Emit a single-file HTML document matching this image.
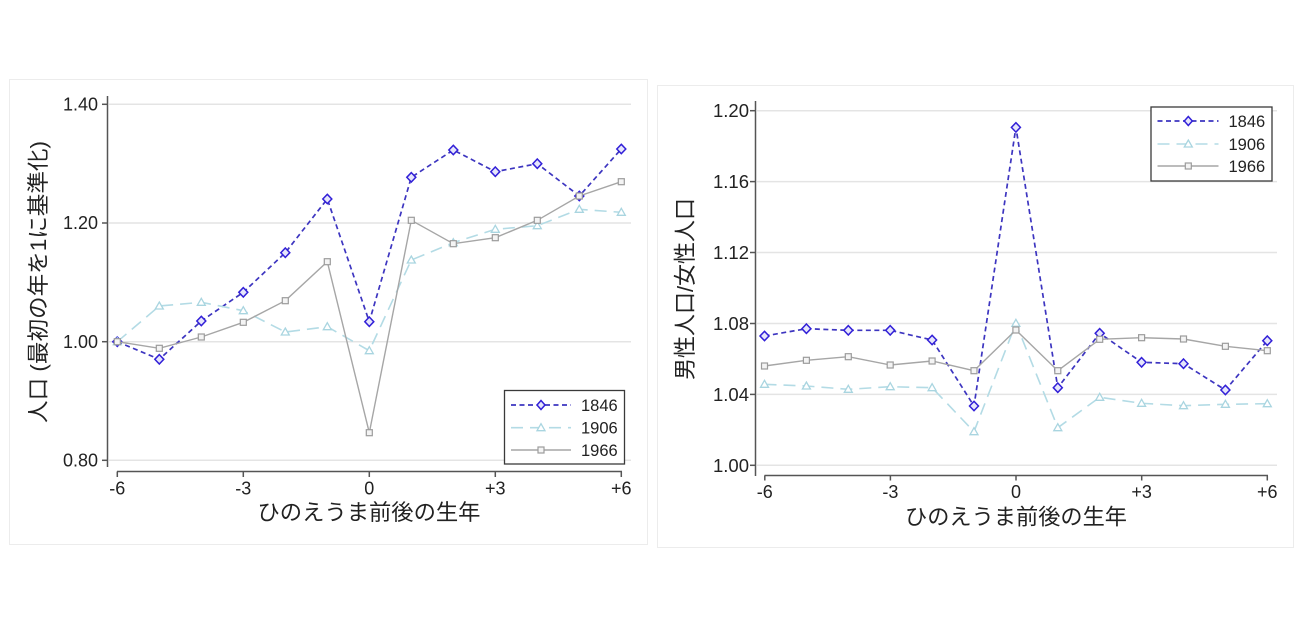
<!DOCTYPE html>
<html>
<head>
<meta charset="utf-8">
<style>
  html, body { margin: 0; padding: 0; background: #ffffff; }
  svg { display: block; }
  text { font-family: "Liberation Sans", "Noto Sans CJK JP", sans-serif; fill: #222; }
</style>
</head>
<body>
<svg width="1300" height="628" viewBox="0 0 1300 628" xmlns="http://www.w3.org/2000/svg">
  <rect x="0" y="0" width="1300" height="628" fill="#ffffff"/>

  <!-- ================= LEFT CHART ================= -->
  <rect x="9.5" y="79.5" width="638" height="465" fill="#ffffff" stroke="#ececec" stroke-width="1"/>
  <!-- gridlines -->
  <g stroke="#e4e4e4" stroke-width="1.5">
    <line x1="109" y1="104.3" x2="631" y2="104.3"/>
    <line x1="109" y1="223" x2="631" y2="223"/>
    <line x1="109" y1="341.7" x2="631" y2="341.7"/>
    <line x1="109" y1="460.3" x2="631" y2="460.3"/>
  </g>
  <!-- y axis -->
  <g stroke="#555" stroke-width="1.5">
    <line x1="107.5" y1="96" x2="107.5" y2="467"/>
    <line x1="102" y1="104.3" x2="107.5" y2="104.3"/>
    <line x1="102" y1="223" x2="107.5" y2="223"/>
    <line x1="102" y1="341.7" x2="107.5" y2="341.7"/>
    <line x1="102" y1="460.3" x2="107.5" y2="460.3"/>
  </g>
  <g font-size="18" text-anchor="end">
    <text x="98" y="110.5">1.40</text>
    <text x="98" y="229.2">1.20</text>
    <text x="98" y="347.9">1.00</text>
    <text x="98" y="466.5">0.80</text>
  </g>
  <!-- x axis -->
  <g stroke="#555" stroke-width="1.5">
    <line x1="117" y1="471.5" x2="622" y2="471.5"/>
    <line x1="117.3" y1="471.5" x2="117.3" y2="477"/>
    <line x1="243.3" y1="471.5" x2="243.3" y2="477"/>
    <line x1="369.3" y1="471.5" x2="369.3" y2="477"/>
    <line x1="495.3" y1="471.5" x2="495.3" y2="477"/>
    <line x1="621.3" y1="471.5" x2="621.3" y2="477"/>
  </g>
  <g font-size="18" text-anchor="middle">
    <text x="117.3" y="494.5">-6</text>
    <text x="243.3" y="494.5">-3</text>
    <text x="369.3" y="494.5">0</text>
    <text x="495.3" y="494.5">+3</text>
    <text x="621.3" y="494.5">+6</text>
  </g>
  <text x="369" y="520" font-size="22" text-anchor="middle" textLength="223" lengthAdjust="spacingAndGlyphs">ひのえうま前後の生年</text>
  <text transform="translate(38,282) rotate(-90)" x="0" y="8" font-size="22" text-anchor="middle" textLength="282" lengthAdjust="spacingAndGlyphs">人口 (最初の年を1に基準化)</text>

  <!-- series 1846 -->
  <polyline fill="none" stroke="#3d35c0" stroke-width="1.7" stroke-dasharray="5,3.5"
    points="117.3,341.7 159.3,359.3 201.3,321 243.3,292.3 285.3,252.7 327.3,199 369.3,321.7 411.3,177.3 453.3,150 495.3,171.7 537.3,163.7 579.3,196 621.3,149"/>
  <g fill="#e6e6fb" stroke="#3220d8" stroke-width="1.5">
    <path d="M117.3,337 L121.8,341.7 L117.3,346.4 L112.8,341.7 Z"/>
    <path d="M159.3,354.6 L163.8,359.3 L159.3,364 L154.8,359.3 Z"/>
    <path d="M201.3,316.3 L205.8,321 L201.3,325.7 L196.8,321 Z"/>
    <path d="M243.3,287.6 L247.8,292.3 L243.3,297 L238.8,292.3 Z"/>
    <path d="M285.3,248 L289.8,252.7 L285.3,257.4 L280.8,252.7 Z"/>
    <path d="M327.3,194.3 L331.8,199 L327.3,203.7 L322.8,199 Z"/>
    <path d="M369.3,317 L373.8,321.7 L369.3,326.4 L364.8,321.7 Z"/>
    <path d="M411.3,172.6 L415.8,177.3 L411.3,182 L406.8,177.3 Z"/>
    <path d="M453.3,145.3 L457.8,150 L453.3,154.7 L448.8,150 Z"/>
    <path d="M495.3,167 L499.8,171.7 L495.3,176.4 L490.8,171.7 Z"/>
    <path d="M537.3,159 L541.8,163.7 L537.3,168.4 L532.8,163.7 Z"/>
    <path d="M579.3,191.3 L583.8,196 L579.3,200.7 L574.8,196 Z"/>
    <path d="M621.3,144.3 L625.8,149 L621.3,153.7 L616.8,149 Z"/>
  </g>

  <!-- series 1906 -->
  <polyline fill="none" stroke="#b3dbe5" stroke-width="1.6" stroke-dasharray="12,7"
    points="117.3,341.7 159.3,306 201.3,302.3 243.3,310.7 285.3,332 327.3,326.7 369.3,350.7 411.3,260 453.3,242.7 495.3,229.3 537.3,225.7 579.3,209.3 621.3,212.3"/>
  <g fill="#ffffff" stroke="#a9d5e0" stroke-width="1.3">
    <path d="M117.3,337.7 L121.3,344.7 L113.3,344.7 Z"/>
    <path d="M159.3,302 L163.3,309 L155.3,309 Z"/>
    <path d="M201.3,298.3 L205.3,305.3 L197.3,305.3 Z"/>
    <path d="M243.3,306.7 L247.3,313.7 L239.3,313.7 Z"/>
    <path d="M285.3,328 L289.3,335 L281.3,335 Z"/>
    <path d="M327.3,322.7 L331.3,329.7 L323.3,329.7 Z"/>
    <path d="M369.3,346.7 L373.3,353.7 L365.3,353.7 Z"/>
    <path d="M411.3,256 L415.3,263 L407.3,263 Z"/>
    <path d="M453.3,238.7 L457.3,245.7 L449.3,245.7 Z"/>
    <path d="M495.3,225.3 L499.3,232.3 L491.3,232.3 Z"/>
    <path d="M537.3,221.7 L541.3,228.7 L533.3,228.7 Z"/>
    <path d="M579.3,205.3 L583.3,212.3 L575.3,212.3 Z"/>
    <path d="M621.3,208.3 L625.3,215.3 L617.3,215.3 Z"/>
  </g>

  <!-- series 1966 -->
  <polyline fill="none" stroke="#a6a6a6" stroke-width="1.4"
    points="117.3,341.7 159.3,348.3 201.3,337 243.3,322.3 285.3,300.7 327.3,261.7 369.3,432.7 411.3,220.3 453.3,243.7 495.3,237.7 537.3,220.3 579.3,196 621.3,181.7"/>
  <g fill="#f4f4f4" stroke="#9c9c9c" stroke-width="1.2">
    <rect x="114.3" y="338.7" width="6" height="6"/>
    <rect x="156.3" y="345.3" width="6" height="6"/>
    <rect x="198.3" y="334" width="6" height="6"/>
    <rect x="240.3" y="319.3" width="6" height="6"/>
    <rect x="282.3" y="297.7" width="6" height="6"/>
    <rect x="324.3" y="258.7" width="6" height="6"/>
    <rect x="366.3" y="429.7" width="6" height="6"/>
    <rect x="408.3" y="217.3" width="6" height="6"/>
    <rect x="450.3" y="240.7" width="6" height="6"/>
    <rect x="492.3" y="234.7" width="6" height="6"/>
    <rect x="534.3" y="217.3" width="6" height="6"/>
    <rect x="576.3" y="193" width="6" height="6"/>
    <rect x="618.3" y="178.7" width="6" height="6"/>
  </g>

  <!-- left legend -->
  <rect x="504.5" y="390.5" width="120" height="73.5" fill="#ffffff" stroke="#3a3a3a" stroke-width="1.3"/>
  <line x1="511" y1="405" x2="571" y2="405" stroke="#3d35c0" stroke-width="1.7" stroke-dasharray="5,3.5"/>
  <path d="M541,400.5 L545,405 L541,409.5 L537,405 Z" fill="#e6e6fb" stroke="#3220d8" stroke-width="1.5"/>
  <line x1="511" y1="427.7" x2="571" y2="427.7" stroke="#b3dbe5" stroke-width="1.6" stroke-dasharray="12,7"/>
  <path d="M541,423.7 L545,430.7 L537,430.7 Z" fill="#ffffff" stroke="#a9d5e0" stroke-width="1.3"/>
  <line x1="511" y1="450" x2="571" y2="450" stroke="#a6a6a6" stroke-width="1.4"/>
  <rect x="538" y="447" width="6" height="6" fill="#f4f4f4" stroke="#9c9c9c" stroke-width="1.2"/>
  <g font-size="16.5">
    <text x="581" y="411">1846</text>
    <text x="581" y="433.7">1906</text>
    <text x="581" y="456">1966</text>
  </g>

  <!-- ================= RIGHT CHART ================= -->
  <rect x="657.5" y="85.5" width="636" height="462" fill="#ffffff" stroke="#ececec" stroke-width="1"/>
  <g stroke="#e4e4e4" stroke-width="1.5">
    <line x1="757" y1="110.7" x2="1277" y2="110.7"/>
    <line x1="757" y1="181.6" x2="1277" y2="181.6"/>
    <line x1="757" y1="252.5" x2="1277" y2="252.5"/>
    <line x1="757" y1="323.5" x2="1277" y2="323.5"/>
    <line x1="757" y1="394.4" x2="1277" y2="394.4"/>
    <line x1="757" y1="465.3" x2="1277" y2="465.3"/>
  </g>
  <g stroke="#555" stroke-width="1.5">
    <line x1="755.5" y1="101" x2="755.5" y2="476"/>
    <line x1="750" y1="110.7" x2="755.5" y2="110.7"/>
    <line x1="750" y1="181.6" x2="755.5" y2="181.6"/>
    <line x1="750" y1="252.5" x2="755.5" y2="252.5"/>
    <line x1="750" y1="323.5" x2="755.5" y2="323.5"/>
    <line x1="750" y1="394.4" x2="755.5" y2="394.4"/>
    <line x1="750" y1="465.3" x2="755.5" y2="465.3"/>
  </g>
  <g font-size="18.5" text-anchor="end">
    <text x="749" y="117.2">1.20</text>
    <text x="749" y="188.1">1.16</text>
    <text x="749" y="259">1.12</text>
    <text x="749" y="330">1.08</text>
    <text x="749" y="400.9">1.04</text>
    <text x="749" y="471.8">1.00</text>
  </g>
  <g stroke="#555" stroke-width="1.5">
    <line x1="764.5" y1="475.5" x2="1268" y2="475.5"/>
    <line x1="764.8" y1="475.5" x2="764.8" y2="480.5"/>
    <line x1="890.4" y1="475.5" x2="890.4" y2="480.5"/>
    <line x1="1016" y1="475.5" x2="1016" y2="480.5"/>
    <line x1="1141.7" y1="475.5" x2="1141.7" y2="480.5"/>
    <line x1="1267.3" y1="475.5" x2="1267.3" y2="480.5"/>
  </g>
  <g font-size="18" text-anchor="middle">
    <text x="764.8" y="498">-6</text>
    <text x="890.4" y="498">-3</text>
    <text x="1016" y="498">0</text>
    <text x="1141.7" y="498">+3</text>
    <text x="1267.3" y="498">+6</text>
  </g>
  <text x="1016" y="524.5" font-size="22" text-anchor="middle" textLength="222" lengthAdjust="spacingAndGlyphs">ひのえうま前後の生年</text>
  <text transform="translate(685,289) rotate(-90)" x="0" y="8" font-size="22.5" text-anchor="middle" textLength="182" lengthAdjust="spacingAndGlyphs">男性人口/女性人口</text>

  <!-- series 1846 -->
  <polyline fill="none" stroke="#3d35c0" stroke-width="1.7" stroke-dasharray="5,3.5"
    points="764.5,336 806.4,328.7 848.3,330.3 890.2,330.3 932.1,340 974,406 1015.9,127.4 1057.8,387.7 1099.7,333.3 1141.6,362.3 1183.5,363.7 1225.4,390 1267.3,340.7"/>
  <g fill="#e6e6fb" stroke="#3220d8" stroke-width="1.5">
    <path d="M764.5,331.3 L769,336 L764.5,340.7 L760,336 Z"/>
    <path d="M806.4,324 L810.9,328.7 L806.4,333.4 L801.9,328.7 Z"/>
    <path d="M848.3,325.6 L852.8,330.3 L848.3,335 L843.8,330.3 Z"/>
    <path d="M890.2,325.6 L894.7,330.3 L890.2,335 L885.7,330.3 Z"/>
    <path d="M932.1,335.3 L936.6,340 L932.1,344.7 L927.6,340 Z"/>
    <path d="M974,401.3 L978.5,406 L974,410.7 L969.5,406 Z"/>
    <path d="M1015.9,122.7 L1020.4,127.4 L1015.9,132.1 L1011.4,127.4 Z"/>
    <path d="M1057.8,383 L1062.3,387.7 L1057.8,392.4 L1053.3,387.7 Z"/>
    <path d="M1099.7,328.6 L1104.2,333.3 L1099.7,338 L1095.2,333.3 Z"/>
    <path d="M1141.6,357.6 L1146.1,362.3 L1141.6,367 L1137.1,362.3 Z"/>
    <path d="M1183.5,359 L1188,363.7 L1183.5,368.4 L1179,363.7 Z"/>
    <path d="M1225.4,385.3 L1229.9,390 L1225.4,394.7 L1220.9,390 Z"/>
    <path d="M1267.3,336 L1271.8,340.7 L1267.3,345.4 L1262.8,340.7 Z"/>
  </g>

  <!-- series 1906 -->
  <polyline fill="none" stroke="#b3dbe5" stroke-width="1.6" stroke-dasharray="12,7"
    points="764.5,384.3 806.4,386 848.3,389.3 890.2,386.7 932.1,387.7 974,431.7 1015.9,323.3 1057.8,427.7 1099.7,397.3 1141.6,403.3 1183.5,405.7 1225.4,404.3 1267.3,403.7"/>
  <g fill="#ffffff" stroke="#a9d5e0" stroke-width="1.3">
    <path d="M764.5,380.3 L768.5,387.3 L760.5,387.3 Z"/>
    <path d="M806.4,382 L810.4,389 L802.4,389 Z"/>
    <path d="M848.3,385.3 L852.3,392.3 L844.3,392.3 Z"/>
    <path d="M890.2,382.7 L894.2,389.7 L886.2,389.7 Z"/>
    <path d="M932.1,383.7 L936.1,390.7 L928.1,390.7 Z"/>
    <path d="M974,427.7 L978,434.7 L970,434.7 Z"/>
    <path d="M1015.9,319.3 L1019.9,326.3 L1011.9,326.3 Z"/>
    <path d="M1057.8,423.7 L1061.8,430.7 L1053.8,430.7 Z"/>
    <path d="M1099.7,393.3 L1103.7,400.3 L1095.7,400.3 Z"/>
    <path d="M1141.6,399.3 L1145.6,406.3 L1137.6,406.3 Z"/>
    <path d="M1183.5,401.7 L1187.5,408.7 L1179.5,408.7 Z"/>
    <path d="M1225.4,400.3 L1229.4,407.3 L1221.4,407.3 Z"/>
    <path d="M1267.3,399.7 L1271.3,406.7 L1263.3,406.7 Z"/>
  </g>

  <!-- series 1966 -->
  <polyline fill="none" stroke="#a6a6a6" stroke-width="1.4"
    points="764.5,366 806.4,360.3 848.3,356.7 890.2,365 932.1,361 974,370.7 1015.9,330 1057.8,370.7 1099.7,339.3 1141.6,337.7 1183.5,339 1225.4,346.3 1267.3,350.7"/>
  <g fill="#f4f4f4" stroke="#9c9c9c" stroke-width="1.2">
    <rect x="761.5" y="363" width="6" height="6"/>
    <rect x="803.4" y="357.3" width="6" height="6"/>
    <rect x="845.3" y="353.7" width="6" height="6"/>
    <rect x="887.2" y="362" width="6" height="6"/>
    <rect x="929.1" y="358" width="6" height="6"/>
    <rect x="971" y="367.7" width="6" height="6"/>
    <rect x="1012.9" y="327" width="6" height="6"/>
    <rect x="1054.8" y="367.7" width="6" height="6"/>
    <rect x="1096.7" y="336.3" width="6" height="6"/>
    <rect x="1138.6" y="334.7" width="6" height="6"/>
    <rect x="1180.5" y="336" width="6" height="6"/>
    <rect x="1222.4" y="343.3" width="6" height="6"/>
    <rect x="1264.3" y="347.7" width="6" height="6"/>
  </g>

  <!-- right legend -->
  <rect x="1151" y="107" width="121" height="74" fill="#ffffff" stroke="#3a3a3a" stroke-width="1.3"/>
  <line x1="1157.5" y1="121" x2="1218.5" y2="121" stroke="#3d35c0" stroke-width="1.7" stroke-dasharray="5,3.5"/>
  <path d="M1188.3,116.5 L1192.3,121 L1188.3,125.5 L1184.3,121 Z" fill="#e6e6fb" stroke="#3220d8" stroke-width="1.5"/>
  <line x1="1157.5" y1="144" x2="1218.5" y2="144" stroke="#b3dbe5" stroke-width="1.6" stroke-dasharray="12,7"/>
  <path d="M1188.3,140 L1192.3,147 L1184.3,147 Z" fill="#ffffff" stroke="#a9d5e0" stroke-width="1.3"/>
  <line x1="1157.5" y1="166" x2="1218.5" y2="166" stroke="#a6a6a6" stroke-width="1.4"/>
  <rect x="1185.3" y="163" width="6" height="6" fill="#f4f4f4" stroke="#9c9c9c" stroke-width="1.2"/>
  <g font-size="16.5">
    <text x="1228.5" y="127">1846</text>
    <text x="1228.5" y="150">1906</text>
    <text x="1228.5" y="172">1966</text>
  </g>
</svg>
</body>
</html>
